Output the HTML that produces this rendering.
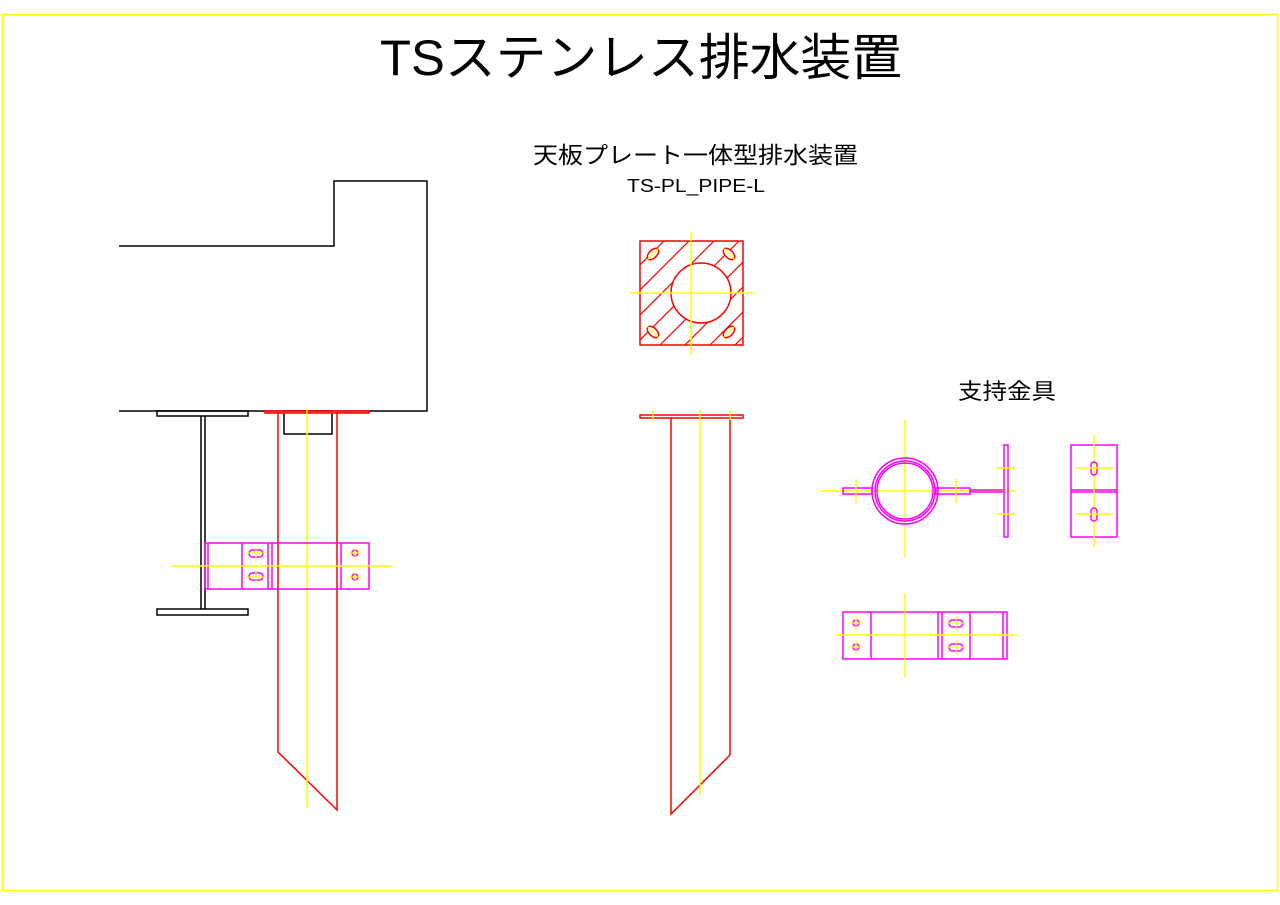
<!DOCTYPE html>
<html><head><meta charset="utf-8"><style>
html,body{margin:0;padding:0;background:#fff;}
svg{display:block;}
text{font-family:"Liberation Sans","Noto Sans CJK JP",sans-serif;fill:#000;}
</style></head><body>
<svg width="1280" height="905" viewBox="0 0 1280 905" xmlns="http://www.w3.org/2000/svg">
<rect x="2.5" y="14.5" width="1275" height="876" fill="none" stroke="#ffff00" stroke-width="1.5"/>
<text x="380" y="75" font-size="50" textLength="522" lengthAdjust="spacingAndGlyphs">TSステンレス排水装置</text>
<text x="533" y="163" font-size="23" textLength="325" lengthAdjust="spacingAndGlyphs">天板プレート一体型排水装置</text>
<text x="627" y="192" font-size="18" textLength="138" lengthAdjust="spacingAndGlyphs">TS-PL_PIPE-L</text>
<text x="958" y="399" font-size="22" textLength="98" lengthAdjust="spacingAndGlyphs">支持金具</text>

<g fill="none" stroke-width="1.5">
<!-- left building -->
<polyline points="119,246 334,246 334,181 427,181 427,411 119,411" stroke="#000"/>
<rect x="157" y="411" width="91" height="5" stroke="#000"/>
<line x1="201" y1="416" x2="201" y2="609" stroke="#000"/>
<line x1="205" y1="416" x2="205" y2="609" stroke="#000"/>
<rect x="157" y="609" width="91" height="6" stroke="#000"/>
<rect x="284" y="411" width="48" height="23" stroke="#000"/>
<rect x="265" y="411" width="104" height="2" stroke="#ff0000" fill="#ff8080"/>
<polyline points="278,413 278,752 337,810 337,413" stroke="#ff0000"/>
<line x1="307" y1="408" x2="307" y2="808" stroke="#ffff00"/>
<rect x="205" y="543" width="164" height="46" stroke="#ff00ff"/>
<line x1="208" y1="543" x2="208" y2="589" stroke="#ff00ff"/>
<line x1="242" y1="543" x2="242" y2="589" stroke="#ff00ff"/>
<line x1="268" y1="543" x2="268" y2="589" stroke="#ff00ff"/>
<line x1="272" y1="543" x2="272" y2="589" stroke="#ff00ff"/>
<line x1="341" y1="543" x2="341" y2="589" stroke="#ff00ff"/>
<line x1="172" y1="566" x2="392" y2="566" stroke="#ffff00"/>
<rect x="249" y="550" width="14" height="7" rx="3.5" stroke="#ff00ff"/>
<rect x="249" y="573" width="14" height="7" rx="3.5" stroke="#ff00ff"/>
<circle cx="355" cy="553" r="3" stroke="#ff00ff"/>
<circle cx="355" cy="577" r="3" stroke="#ff00ff"/>
<g stroke="#ffff00" stroke-width="1"><line x1="246" y1="553" x2="266" y2="553"/><line x1="256" y1="547" x2="256" y2="560"/><line x1="246" y1="577" x2="266" y2="577"/><line x1="256" y1="570" x2="256" y2="583"/>
<line x1="348" y1="553" x2="362" y2="553"/><line x1="355" y1="547" x2="355" y2="560"/><line x1="348" y1="577" x2="362" y2="577"/><line x1="355" y1="570" x2="355" y2="583"/></g>

<!-- middle square plate -->
<defs><clipPath id="sq"><rect x="640" y="241" width="103" height="104"/></clipPath></defs>
<g clip-path="url(#sq)" stroke="#ff0000" stroke-width="1.2">
<line x1="620" y1="260" x2="680" y2="200"/><line x1="620" y1="285" x2="705" y2="200"/>
<line x1="620" y1="310" x2="730" y2="200"/><line x1="620" y1="335" x2="755" y2="200"/>
<line x1="620" y1="360" x2="780" y2="200"/><line x1="620" y1="385" x2="805" y2="200"/>
<line x1="645" y1="385" x2="830" y2="200"/><line x1="670" y1="385" x2="855" y2="200"/>
<line x1="695" y1="385" x2="880" y2="200"/><line x1="720" y1="385" x2="905" y2="200"/>
</g>
<circle cx="701" cy="293" r="30" stroke="#ff0000" fill="#fff"/>
<rect x="640" y="241" width="103" height="104" stroke="#ff0000"/>
<line x1="630" y1="293" x2="753" y2="293" stroke="#ffff00"/>
<line x1="691" y1="232" x2="691" y2="355" stroke="#ffff00"/>
<g stroke="#ff0000" fill="#fff">
<ellipse cx="653" cy="254" rx="7" ry="4" transform="rotate(-45 653 254)"/>
<ellipse cx="729" cy="254" rx="7" ry="4" transform="rotate(45 729 254)"/>
<ellipse cx="653" cy="332" rx="7" ry="4" transform="rotate(45 653 332)"/>
<ellipse cx="729" cy="332" rx="7" ry="4" transform="rotate(-45 729 332)"/>
</g>
<g stroke="#ffff00" stroke-width="1.2">
<line x1="647" y1="260" x2="659" y2="248"/><line x1="723" y1="248" x2="735" y2="260"/>
<line x1="647" y1="326" x2="659" y2="338"/><line x1="723" y1="338" x2="735" y2="326"/>
</g>

<!-- middle pipe -->
<rect x="640" y="415" width="103" height="3" stroke="#ff0000"/>
<polyline points="671,418 671,814 730,755 730,418" stroke="#ff0000"/>
<line x1="700" y1="410" x2="700" y2="795" stroke="#ffff00"/>
<line x1="653" y1="410" x2="653" y2="420" stroke="#ffff00"/>
<line x1="730" y1="410" x2="730" y2="420" stroke="#ffff00"/>

<!-- clamp top view -->
<line x1="820" y1="491" x2="1016" y2="491" stroke="#ffff00"/>
<line x1="905" y1="420" x2="905" y2="557" stroke="#ffff00"/>
<circle cx="905" cy="491" r="33" stroke="#ff00ff"/>
<circle cx="905" cy="491" r="30" stroke="#ff00ff"/>
<circle cx="905" cy="491" r="28" stroke="#ff00ff"/>
<rect x="843" y="488" width="29" height="6" stroke="#ff00ff"/>
<rect x="936" y="488" width="34" height="6" stroke="#ff00ff"/>
<line x1="970" y1="490" x2="1003" y2="490" stroke="#ff00ff"/>
<line x1="970" y1="492" x2="1003" y2="492" stroke="#ff00ff"/>
<rect x="1004" y="445" width="4" height="92" stroke="#ff00ff"/>
<g stroke="#ffff00"><line x1="856" y1="479" x2="856" y2="503"/><line x1="956" y1="479" x2="956" y2="503"/>
<line x1="996" y1="468" x2="1016" y2="468"/><line x1="996" y1="514" x2="1016" y2="514"/></g>

<!-- side view -->
<rect x="1071" y="445" width="46" height="92" stroke="#ff00ff"/>
<line x1="1071" y1="490" x2="1117" y2="490" stroke="#ff00ff"/>
<line x1="1071" y1="492" x2="1117" y2="492" stroke="#ff00ff"/>
<line x1="1094" y1="435" x2="1094" y2="547" stroke="#ffff00"/>
<rect x="1091" y="462" width="6" height="13" rx="3" stroke="#ff00ff"/>
<rect x="1091" y="508" width="6" height="13" rx="3" stroke="#ff00ff"/>
<line x1="1075" y1="468" x2="1113" y2="468" stroke="#ffff00"/>
<line x1="1075" y1="514" x2="1113" y2="514" stroke="#ffff00"/>

<!-- bottom view -->
<rect x="843" y="612" width="164" height="47" stroke="#ff00ff"/>
<line x1="871" y1="612" x2="871" y2="659" stroke="#ff00ff"/>
<line x1="938" y1="612" x2="938" y2="659" stroke="#ff00ff"/>
<line x1="942" y1="612" x2="942" y2="659" stroke="#ff00ff"/>
<line x1="970" y1="612" x2="970" y2="659" stroke="#ff00ff"/>
<line x1="1003" y1="612" x2="1003" y2="659" stroke="#ff00ff"/>
<line x1="836" y1="635" x2="1018" y2="635" stroke="#ffff00"/>
<line x1="905" y1="593" x2="905" y2="677" stroke="#ffff00"/>
<circle cx="856" cy="623" r="3" stroke="#ff00ff"/>
<circle cx="856" cy="647" r="3" stroke="#ff00ff"/>
<rect x="949" y="620" width="14" height="7" rx="3.5" stroke="#ff00ff"/>
<rect x="949" y="644" width="14" height="7" rx="3.5" stroke="#ff00ff"/>
<g stroke="#ffff00" stroke-width="1"><line x1="848" y1="623" x2="864" y2="623"/><line x1="856" y1="616" x2="856" y2="630"/>
<line x1="848" y1="647" x2="864" y2="647"/><line x1="856" y1="640" x2="856" y2="654"/>
<line x1="946" y1="623" x2="966" y2="623"/><line x1="956" y1="616" x2="956" y2="630"/>
<line x1="946" y1="647" x2="966" y2="647"/><line x1="956" y1="640" x2="956" y2="654"/></g>
</g>
</svg>
</body></html>
